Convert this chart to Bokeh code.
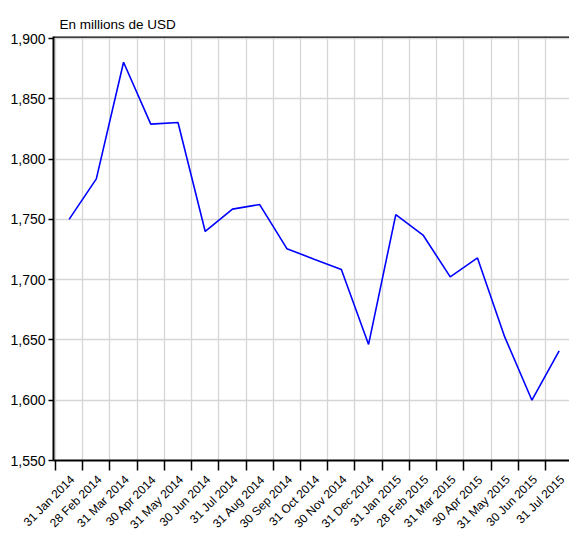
from bokeh.plotting import figure
from bokeh.models import FixedTicker, NumeralTickFormatter, Span, Range1d, LinearAxis
from bokeh.embed import file_html
from bokeh.resources import INLINE

dates = ["31 Jan 2014", "28 Feb 2014", "31 Mar 2014", "30 Apr 2014", "31 May 2014",
         "30 Jun 2014", "31 Jul 2014", "31 Aug 2014", "30 Sep 2014", "31 Oct 2014",
         "30 Nov 2014", "31 Dec 2014", "31 Jan 2015", "28 Feb 2015", "31 Mar 2015",
         "30 Apr 2015", "31 May 2015", "30 Jun 2015", "31 Jul 2015"]
values = [1750, 1783.6, 1880.3, 1829, 1830.4, 1740, 1758.5, 1762.3, 1725.7, 1717,
          1708.5, 1646.3, 1754, 1737, 1702.3, 1718, 1652.5, 1600, 1641]
y_ticks = [1550, 1600, 1650, 1700, 1750, 1800, 1850, 1900]

FONT = "Liberation Sans"
LABEL_SHIFT = 0.62

p = figure(width=569, height=543, output_backend="svg", toolbar_location=None,
           x_range=Range1d(-0.073, 18.88), y_range=Range1d(1550, 1901.7),
           min_border_left=53, min_border_right=0, min_border_top=36, min_border_bottom=83,
           title="En millions de USD", x_axis_location=None)

p.title.text_font = FONT
p.title.text_font_size = "13.5px"
p.title.text_font_style = "normal"
p.title.text_color = "black"
p.title.align = "left"
p.title.offset = 6
p.title.standoff = 9
p.outline_line_color = None

xs = [i + 0.5 for i in range(len(values))]
p.line(xs, values, line_color="#0000ff", line_width=1.6)

tick_pos = list(range(len(dates)))

# x axis: ticks only
ax_ticks = LinearAxis(ticker=FixedTicker(ticks=tick_pos))
ax_ticks.major_label_overrides = {i: "" for i in tick_pos}
ax_ticks.major_label_text_font_size = "1px"
ax_ticks.axis_line_width = 2
ax_ticks.axis_line_color = "black"
ax_ticks.major_tick_out = 10
ax_ticks.major_tick_in = 0
ax_ticks.major_tick_line_width = 1.5
ax_ticks.minor_tick_line_color = None
ax_ticks.major_label_standoff = 0
p.add_layout(ax_ticks, "below")

# x axis: labels only
label_pos = [round(i + LABEL_SHIFT, 2) for i in tick_pos]
ax_labels = LinearAxis(ticker=FixedTicker(ticks=label_pos))
ax_labels.major_label_overrides = {lp: d for lp, d in zip(label_pos, dates)}
ax_labels.major_label_orientation = 0.785398
ax_labels.major_label_text_font = FONT
ax_labels.major_label_text_font_size = "12px"
ax_labels.major_label_text_color = "black"
ax_labels.axis_line_color = None
ax_labels.major_tick_line_color = None
ax_labels.minor_tick_line_color = None
ax_labels.major_tick_out = 0
ax_labels.major_tick_in = 0
ax_labels.major_label_standoff = 7
p.add_layout(ax_labels, "below")

# y axis
p.yaxis.ticker = FixedTicker(ticks=y_ticks)
p.yaxis.formatter = NumeralTickFormatter(format="0,0")
p.yaxis.major_label_text_font = FONT
p.yaxis.major_label_text_font_size = "14px"
p.yaxis.major_label_text_color = "black"
p.yaxis.axis_line_width = 2
p.yaxis.axis_line_color = "black"
p.yaxis.major_tick_out = 5
p.yaxis.major_tick_in = 0
p.yaxis.major_tick_line_width = 1.5
p.yaxis.minor_tick_line_color = None
p.yaxis.major_label_standoff = 3

p.xgrid.ticker = FixedTicker(ticks=tick_pos)
p.xgrid.grid_line_color = "#d6d6d6"
p.xgrid.grid_line_width = 1.3
p.ygrid.grid_line_color = "#d6d6d6"
p.ygrid.grid_line_width = 1.3

p.add_layout(Span(location=1901.7, dimension="width", line_color="black", line_width=2.5))

open("out.html", "w").write(file_html(p, INLINE))
